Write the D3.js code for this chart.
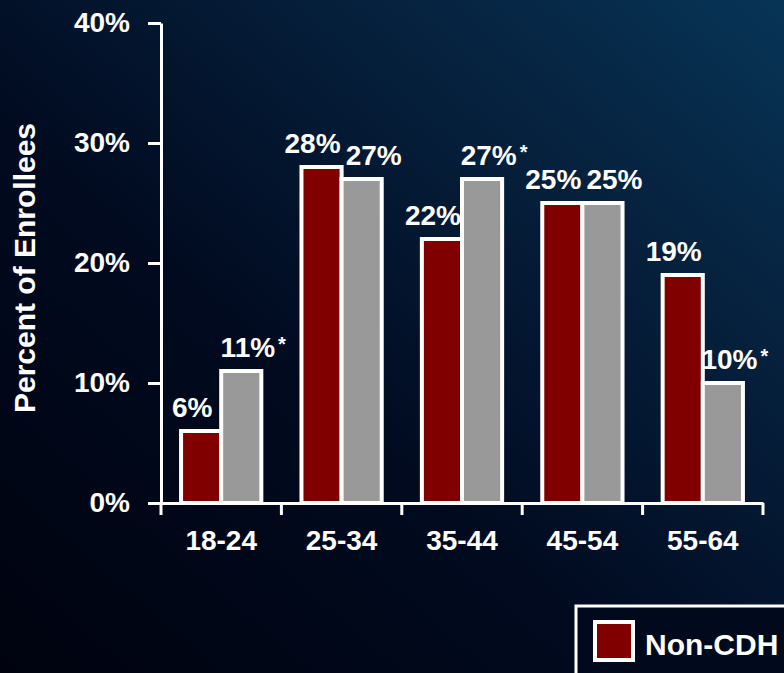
<!DOCTYPE html>
<html>
<head>
<meta charset="utf-8">
<script src="https://cdn.jsdelivr.net/npm/d3@7"></script>
<style>
html,body{margin:0;padding:0;background:#000518;overflow:hidden;}
svg{display:block;font-family:"Liberation Sans",Arial,sans-serif;font-weight:bold;}
</style>
</head>
<body>
<div id="chart"></div>
<script>
// age groups and the two enrollee series (percent)
var ageGroups=["18-24","25-34","35-44","45-54","55-64"];
var seriesNames=["Non-CDH","CDH"];
var nonCdh=[6,28,22,25,19];
var cdh=[11,27,27,25,10];
var starred=[true,false,true,false,true]; // significance marks on cdh
var yTicks=[0,10,20,30,40];

var width=784,height=673;
var colors=["#800000","#999999"];

var svg=d3.select("#chart").append("svg").attr("width",width).attr("height",height);

var defs=svg.append("defs");
var grad=defs.append("linearGradient").attr("id","bg")
  .attr("x1","0").attr("y1","1").attr("x2","1").attr("y2","0");
grad.append("stop").attr("offset","0").attr("stop-color","#00030f");
grad.append("stop").attr("offset","0.4").attr("stop-color","#010a1f");
grad.append("stop").attr("offset","0.75").attr("stop-color","#06223f");
grad.append("stop").attr("offset","1").attr("stop-color","#073456");
svg.append("rect").attr("width",width).attr("height",height).attr("fill","url(#bg)");

var y=d3.scaleLinear().domain([0,40]).range([503,23]);
var x=d3.scaleBand().domain(ageGroups).range([161,763]).paddingInner(0).paddingOuter(0);
var xs=d3.scaleBand().domain(seriesNames).range([0,x.bandwidth()]).paddingInner(0).paddingOuter(0.5);

var rows=ageGroups.map(function(g,i){
  return [{g:g,s:seriesNames[0],v:nonCdh[i],star:false,k:0},
          {g:g,s:seriesNames[1],v:cdh[i],star:starred[i],k:1}];
});

// bars
var grp=svg.append("g").selectAll("g").data(rows).enter().append("g");
grp.selectAll("rect").data(function(d){return d;}).enter().append("rect")
  .attr("x",function(d){return x(d.g)+xs(d.s);})
  .attr("y",function(d){return y(d.v);})
  .attr("width",xs.bandwidth())
  .attr("height",function(d){return y(0)-y(d.v);})
  .attr("fill",function(d){return colors[d.k];})
  .attr("stroke","#fff").attr("stroke-width",4);

// value labels
var lab=grp.selectAll("text").data(function(d){return d;}).enter().append("text")
  .attr("x",function(d){return x(d.g)+xs(d.s)+xs.bandwidth()/2+(d.k==0?-9:12);})
  .attr("y",function(d){return y(d.v)-14;})
  .attr("text-anchor","middle")
  .attr("fill","#fff").style("font-size","28px");
lab.append("tspan").text(function(d){return d.v+"%";});
lab.filter(function(d){return d.star;}).append("tspan")
  .attr("dx",3).attr("dy",-6).style("font-size","20px").text("*");

// y axis
var yAxis=d3.axisLeft(y).tickValues(yTicks).tickFormat(function(d){return d+"%";})
  .tickSize(13).tickSizeOuter(0).tickPadding(18);
var ya=svg.append("g").attr("transform","translate(161,0)").call(yAxis);
ya.select(".domain").attr("stroke","#fff").attr("stroke-width",3);
ya.selectAll(".tick line").attr("stroke","#fff").attr("stroke-width",3);
ya.selectAll(".tick text").attr("fill","#fff").style("font-size","28px")
  .style("font-family","'Liberation Sans',Arial,sans-serif").style("font-weight","bold");

// x axis
var xAxis=d3.axisBottom(x).tickSize(0).tickSizeOuter(0).tickPadding(27);
var xa=svg.append("g").attr("transform","translate(0,503)").call(xAxis);
xa.select(".domain").attr("stroke","#fff").attr("stroke-width",3);
xa.selectAll(".tick text").attr("fill","#fff").style("font-size","28px")
  .style("font-family","'Liberation Sans',Arial,sans-serif").style("font-weight","bold");
var bounds=[x(ageGroups[0])].concat(ageGroups.map(function(g){return x(g)+x.bandwidth();}));
xa.selectAll("line.sep").data(bounds).enter().append("line").attr("class","sep")
  .attr("x1",function(d){return d;}).attr("x2",function(d){return d;})
  .attr("y1",0).attr("y2",12).attr("stroke","#fff").attr("stroke-width",3);

// y title
svg.append("text").attr("transform","translate(35,268) rotate(-90)")
  .attr("text-anchor","middle").attr("fill","#fff").style("font-size","30px")
  .text("Percent of Enrollees");

// legend: box runs off the right edge, only the first entry is in view
var leg=svg.append("g").attr("transform","translate(576,606)");
leg.append("rect").attr("width",320).attr("height",100)
  .attr("fill","#000a1c").attr("stroke","#fff").attr("stroke-width",3);
var li=leg.selectAll("g").data(seriesNames.slice(0,1)).enter().append("g")
  .attr("transform","translate(19,16)");
li.append("rect").attr("width",38).attr("height",38)
  .attr("fill",function(d,i){return colors[i];}).attr("stroke","#fff").attr("stroke-width",4);
li.append("text").attr("x",50).attr("y",33).attr("fill","#fff").style("font-size","30px")
  .text(function(d){return d;});
</script>
</body>
</html>
